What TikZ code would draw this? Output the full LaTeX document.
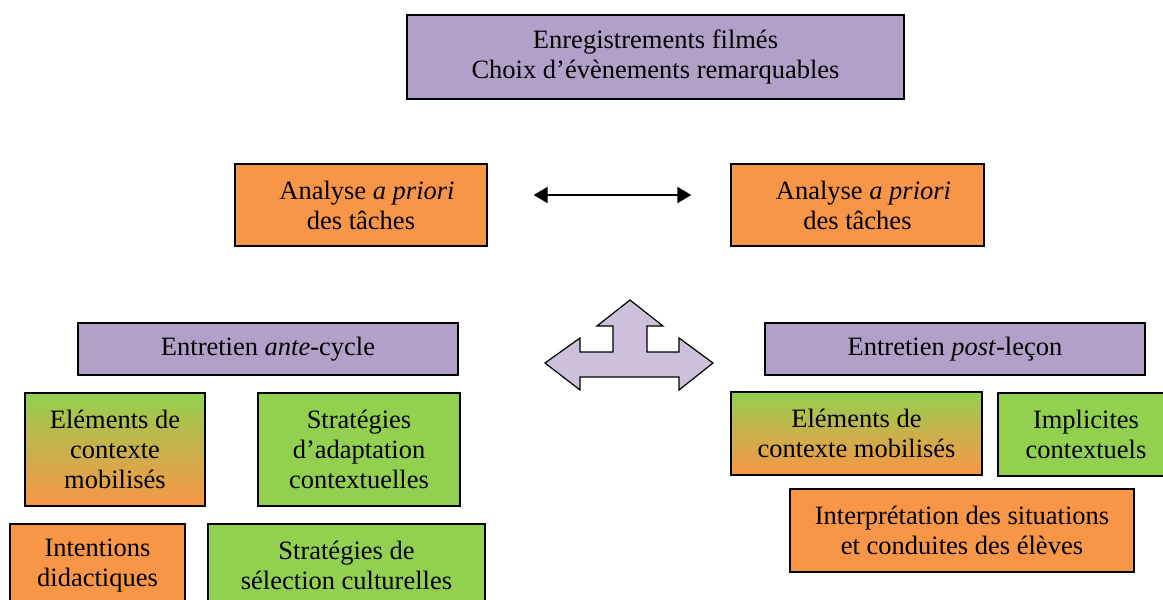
\documentclass[tikz,border=0pt]{standalone}
\usepackage{fontspec}
\setmainfont{Liberation Serif}
\usetikzlibrary{arrows.meta}
\definecolor{violetbox}{HTML}{B1A0C7}
\definecolor{orangebox}{HTML}{F79646}
\definecolor{greenbox}{HTML}{92D050}
\definecolor{arrowfill}{HTML}{CCC0DA}
\tikzset{
  box/.style={draw=black, line width=1.4pt, inner sep=0pt, align=center,
    font=\fontsize{26.5}{30}\selectfont},
  purplebox/.style={box, fill=violetbox},
  orangeb/.style={box, fill=orangebox},
  greenb/.style={box, fill=greenbox},
  gradb/.style={box, top color=greenbox, bottom color=orangebox, middle color=orangebox!55!greenbox},
  dblarrow/.style={line width=2.2pt, {Triangle[length=14pt,width=16pt]}-{Triangle[length=14pt,width=16pt]}},
}
\begin{document}
\begin{tikzpicture}[x=1pt,y=-1pt]
\path[use as bounding box] (0,0) rectangle (1163,600);
\clip (0,0) rectangle (1163,600);
% top
\node[purplebox, minimum width=497pt, minimum height=84pt] (top) at (655.5,57)
  {Enregistrements filmés\\Choix d’évènements remarquables};
% analyses
\node[orangeb, minimum width=252pt, minimum height=82pt] (aL) at (361,205)
  {\hspace*{12pt}Analyse \textit{a priori}\\des tâches};
\node[orangeb, minimum width=253pt, minimum height=82pt] (aR) at (857.5,205)
  {\hspace*{12pt}Analyse \textit{a priori}\\des tâches};
\draw[dblarrow, shorten <=46pt, shorten >=39pt] ([yshift=10pt]aL.east) -- ([yshift=10pt]aR.west);
% entretiens
\node[purplebox, minimum width=380pt, minimum height=52pt] (ante) at (268,349)
  {Entretien \textit{ante}-cycle};
\node[purplebox, minimum width=380pt, minimum height=52pt] (post) at (955,349)
  {Entretien \textit{post}-leçon};
% three-way arrow
\draw[fill=arrowfill, line width=1.2pt, line join=miter]
  (630,300) -- (663,326) -- (647,326) -- (647,352) -- (679,352) -- (679,338)
  -- (713,363) -- (679,390) -- (679,377) -- (580,377) -- (580,390)
  -- (545,363) -- (580,338) -- (580,352) -- (613,352) -- (613,326)
  -- (597,326) -- cycle;
% left boxes
\node[gradb, minimum width=180pt, minimum height=113pt] (elL) at (115,449.5)
  {Eléments de\\contexte\\mobilisés};
\node[greenb, minimum width=202pt, minimum height=113pt] (strA) at (359,449.5)
  {Stratégies\\d’adaptation\\contextuelles};
\node[orangeb, minimum width=175pt, minimum height=83pt] (intent) at (97.5,565.5)
  {Intentions\\didactiques};
\node[greenb, minimum width=277pt, minimum height=83pt] (strS) at (346.5,565.5)
  {Stratégies de\\sélection culturelles};
% right boxes
\node[gradb, minimum width=251pt, minimum height=83pt] (elR) at (856.5,433.5)
  {Eléments de\\contexte mobilisés};
\node[greenb, minimum width=176pt, minimum height=83pt] (impl) at (1086,434.5)
  {Implicites\\contextuels};
\node[orangeb, minimum width=344pt, minimum height=83pt] (interp) at (962,530.5)
  {Interprétation des situations\\et conduites des élèves};
\end{tikzpicture}
\end{document}
